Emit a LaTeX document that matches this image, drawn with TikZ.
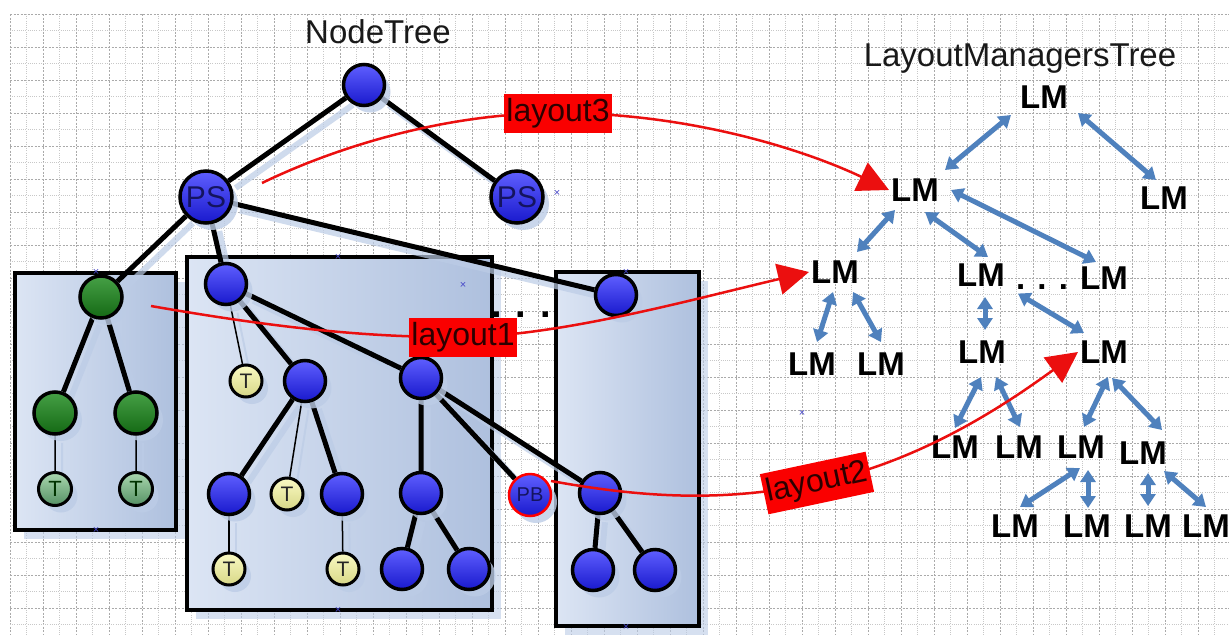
\documentclass[tikz,border=0pt]{standalone}
\usepackage{fontspec}
\setmainfont{Liberation Sans}
\usetikzlibrary{arrows.meta,calc,shadows}
\pgfdeclarelayer{gridl}
\pgfdeclarelayer{boxl}
\pgfdeclarelayer{edgel}
\pgfsetlayers{gridl,boxl,edgel,main}
\definecolor{gridA}{RGB}{170,170,170}
\definecolor{gridB}{RGB}{200,200,200}
\definecolor{boxL}{RGB}{220,229,244}
\definecolor{boxR}{RGB}{174,192,222}
\definecolor{shadowc}{RGB}{188,204,230}
\definecolor{blueL}{RGB}{95,95,255}
\definecolor{blueD}{RGB}{25,25,205}
\definecolor{greenL}{RGB}{70,160,70}
\definecolor{greenD}{RGB}{20,105,20}
\definecolor{gtL}{RGB}{170,215,175}
\definecolor{gtD}{RGB}{85,145,100}
\definecolor{ytL}{RGB}{250,250,195}
\definecolor{ytD}{RGB}{215,215,135}
\definecolor{labred}{RGB}{250,0,0}
\definecolor{arrred}{RGB}{235,15,15}
\definecolor{labtext}{RGB}{45,0,0}
\definecolor{lmblue}{RGB}{79,129,189}
\definecolor{psnavy}{RGB}{20,20,95}
\definecolor{xmark}{RGB}{70,70,200}
\definecolor{titlec}{RGB}{25,25,25}

\newcommand\treeEdges[3]{%
  \draw[#1] (root)--(psl) (root)--(psr) (psl)--(g0) (psl)--(b0) (psl)--(b3)
    (g0)--(g1) (g0)--(g2) (b0)--(b1) (b0)--(b2) (b1)--(b11) (b1)--(b12)
    (b2)--(b21) (b2)--(pb) (b2)--(b31) (b21)--(b211) (b21)--(b212)
    (b31)--(b311) (b31)--(b312);
  \draw[#2] (g1)--(gt1) (g2)--(gt2) (b0)--(yt1) (b1)--(yt2) (b12)--(yt4);
  \draw[#3] (b11)--(yt3);
}

\begin{document}
\begin{tikzpicture}[x=1pt,y=-1pt,
  gmajor/.style={draw=gridA, line width=0.5pt, dash pattern=on 2pt off 1.5pt},
  gminor/.style={draw=gridB, line width=0.5pt, dash pattern=on 0.8pt off 1.4pt},
  boxn/.style={draw=black, line width=4pt, left color=boxL, right color=boxR,
    inner sep=0pt, outer sep=0pt,
    drop shadow={fill=shadowc, opacity=0.6, shadow xshift=9pt, shadow yshift=-9pt}},
  tnode/.style={circle, draw=black, line width=3.5pt, inner sep=0pt,
    drop shadow={fill=shadowc, opacity=0.8, shadow xshift=6pt, shadow yshift=-7pt}},
  bn/.style={tnode, minimum size=41pt, top color=blueL, bottom color=blueD},
  psn/.style={tnode, minimum size=52pt, top color=blueL, bottom color=blueD,
    text=psnavy, font=\fontsize{30}{30}\selectfont},
  gn/.style={tnode, minimum size=42pt, top color=greenL, bottom color=greenD},
  gtn/.style={tnode, line width=3pt, minimum size=33pt, top color=gtL, bottom color=gtD,
    text=black!80!green, font=\fontsize{22}{22}\selectfont},
  ytn/.style={tnode, line width=3pt, minimum size=32pt, top color=ytL, bottom color=ytD,
    text=black!85, font=\fontsize{21}{21}\selectfont},
  pbn/.style={tnode, draw=red, line width=2.5pt, minimum size=42pt, top color=blueL,
    bottom color=blueD, text=psnavy, font=\fontsize{20}{20}\selectfont},
  thickedge/.style={draw=black, line width=5pt},
  thinedge/.style={draw=black, line width=1.5pt},
  midedge/.style={draw=black, line width=2.5pt},
  sthick/.style={draw=shadowc, line width=6pt, opacity=0.7},
  sthin/.style={draw=shadowc, line width=2pt, opacity=0.7},
  title/.style={text=titlec, font=\fontsize{33}{36}\selectfont, anchor=base, inner sep=0pt},
  lm/.style={font=\bfseries\fontsize{33}{33}\selectfont, inner sep=2pt},
  barrow/.style={draw=lmblue, line width=5pt,
    {Triangle[length=12pt,width=15pt]}-{Triangle[length=12pt,width=15pt]}},
  redarrow/.style={draw=arrred, line width=2.5pt, -{Triangle[length=31pt,width=31pt]}},
  lab/.style={fill=labred, inner sep=0pt, minimum width=108pt, minimum height=39pt,
    text=labtext, font=\fontsize{32}{32}\selectfont},
  xm/.style={text=xmark, font=\fontsize{11}{11}\selectfont, inner sep=0pt}
]
\useasboundingbox (0,0) rectangle (1229,635);

% ---------- grid ----------
\begin{pgfonlayer}{gridl}
\fill[white] (0,0) rectangle (1229,635);
\foreach \k in {0,...,73} {
  \pgfmathsetmacro\xx{10+16.5*\k}
  \ifodd\k \draw[gminor] (\xx,14) -- (\xx,635); \else \draw[gmajor] (\xx,14) -- (\xx,635); \fi
}
\foreach \k in {0,...,37} {
  \pgfmathsetmacro\yy{14+16.5*\k}
  \ifodd\k \draw[gminor] (10,\yy) -- (1229,\yy); \else \draw[gmajor] (10,\yy) -- (1229,\yy); \fi
}
\end{pgfonlayer}

% ---------- boxes ----------
\begin{pgfonlayer}{boxl}
\node[boxn, minimum width=161pt, minimum height=257pt] (box1) at (95.5,401.5) {};
\node[boxn, minimum width=305pt, minimum height=353pt] (box2) at (339.5,433.5) {};
\node[boxn, minimum width=143pt, minimum height=354pt] (box3) at (627.5,449) {};
\end{pgfonlayer}

% ---------- titles ----------
\node[title] (nt) at (378,43) {NodeTree};
\node[title] (lmt) at (1020,66) {LayoutManagersTree};

% ---------- node tree ----------
\node[bn] (root) at (364,85) {};
\node[psn] (psl) at (206,197) {PS};
\node[psn] (psr) at (517,197) {PS};
\node[gn] (g0) at (101,297) {};
\node[gn] (g1) at (55,413) {};
\node[gn] (g2) at (136,413) {};
\node[gtn] (gt1) at (55,489) {T};
\node[gtn] (gt2) at (136,489) {T};
\node[bn] (b0) at (226,284) {};
\node[ytn] (yt1) at (246,381) {T};
\node[bn] (b1) at (305,381) {};
\node[bn] (b2) at (421,378) {};
\node[bn] (b11) at (229,494) {};
\node[ytn] (yt2) at (287,494) {T};
\node[bn] (b12) at (342,494) {};
\node[ytn] (yt3) at (229,569) {T};
\node[ytn] (yt4) at (343,569) {T};
\node[bn] (b21) at (421,493) {};
\node[bn] (b211) at (402,569) {};
\node[bn] (b212) at (469,569) {};
\node[pbn] (pb) at (530,495) {PB};
\node[bn] (b3) at (616,295) {};
\node[bn] (b31) at (600,493) {};
\node[bn] (b311) at (593,570) {};
\node[bn] (b312) at (655,570) {};

\node[font=\bfseries\fontsize{38}{38}\selectfont, anchor=base, inner sep=0pt] (dots1) at (521,317) {. . .};

\begin{pgfonlayer}{edgel}
\begin{scope}[transform canvas={xshift=7pt,yshift=-7pt}]
\treeEdges{sthick}{sthin}{sthin}
\end{scope}
\treeEdges{thickedge}{thinedge}{midedge}
\end{pgfonlayer}

% ---------- selection marks ----------
\node[xm] (x1) at (557,193) {×};
\node[xm] (x2) at (463,285) {×};
\node[xm] (x3) at (802,413) {×};
\node[xm] (x4) at (96,272) {×};
\node[xm] (x5) at (96,530) {×};
\node[xm] (x6) at (338,257) {×};
\node[xm] (x7) at (338,610) {×};
\node[xm] (x8) at (626,272) {×};
\node[xm] (x9) at (626,627) {×};

% ---------- layout managers tree ----------
\node[lm] (L0) at (1044,97) {LM};
\node[lm] (L1) at (915,190) {LM};
\node[lm] (L2) at (1164,198) {LM};
\node[lm] (L3) at (835,272) {LM};
\node[lm] (L4) at (981,275) {LM};
\node[lm, anchor=base, inner sep=0pt] (Ld) at (1042,289) {. . .};
\node[lm] (L5) at (1104,278) {LM};
\node[lm] (L6) at (812,364) {LM};
\node[lm] (L7) at (881,364) {LM};
\node[lm] (L8) at (982,352) {LM};
\node[lm] (L9) at (1104,352) {LM};
\node[lm] (L10) at (955,447) {LM};
\node[lm] (L11) at (1019,447) {LM};
\node[lm] (L12) at (1081,447) {LM};
\node[lm] (L13) at (1143,453) {LM};
\node[lm] (L14) at (1015,526) {LM};
\node[lm] (L15) at (1087,526) {LM};
\node[lm] (L16) at (1148,526) {LM};
\node[lm] (L17) at (1206,526) {LM};

\draw[barrow] ($(L0)+(-33,18)$) -- ($(L1)+(30,-20)$);
\draw[barrow] ($(L0)+(34,16)$) -- ($(L2)+(-8,-18)$);
\draw[barrow] ($(L1)+(-20,20)$) -- ($(L3)+(22,-20)$);
\draw[barrow] ($(L1)+(10,22)$) -- ($(L4)+(7,-18)$);
\draw[barrow] ($(L1)+(36,0)$) -- ($(L5)+(-8,-16)$);
\draw[barrow] ($(L3)+(-2,20)$) -- ($(L6)+(5,-22)$);
\draw[barrow] ($(L3)+(18,20)$) -- ($(L7)+(0,-22)$);
\draw[barrow] ($(L4)+(4,22)$) -- ($(L8)+(3,-22)$);
\draw[barrow] ($(Ld)+(-24,7)$) -- ($(L9)+(-20,-19)$);
\draw[barrow] ($(L8)+(-1,25)$) -- ($(L10)+(0,-19)$);
\draw[barrow] ($(L8)+(14,25)$) -- ($(L11)+(1,-20)$);
\draw[barrow] ($(L9)+(4,25)$) -- ($(L12)+(3,-20)$);
\draw[barrow] ($(L9)+(8,26)$) -- ($(L13)+(19,-23)$);
\draw[barrow] ($(L12)+(-1,21)$) -- ($(L14)+(5,-19)$);
\draw[barrow] ($(L12)+(7,23)$) -- ($(L15)+(1,-18)$);
\draw[barrow] ($(L13)+(5,20)$) -- ($(L16)+(0,-20)$);
\draw[barrow] ($(L13)+(21,18)$) -- ($(L17)+(0,-19)$);

% ---------- red layout arrows ----------
\coordinate (l3s) at (262,183);
\coordinate (l3c) at (558,113);
\coordinate (l1s) at (151,306);
\coordinate (l1c) at (463,337);
\coordinate (l2s) at (551,481);
\coordinate (l2c) at (817,483);

\draw[redarrow] (l3s) .. controls (330,150) and (440,113) .. (l3c)
  .. controls (690,113) and (805,150) .. (L1.west);
\draw[redarrow] (l1s) .. controls (260,325) and (360,338) .. (l1c)
  .. controls (560,336) and (690,300) .. (L3.west);
\draw[redarrow] (l2s) .. controls (640,497) and (720,503) .. (l2c)
  .. controls (920,462) and (1005,405) .. (L9.west);

\node[lab] (lab3) at (l3c) {layout3};
\node[lab] (lab1) at (l1c) {layout1};
\node[lab, rotate=12, minimum height=41pt] (lab2) at (l2c) {layout2};
\end{tikzpicture}
\end{document}
